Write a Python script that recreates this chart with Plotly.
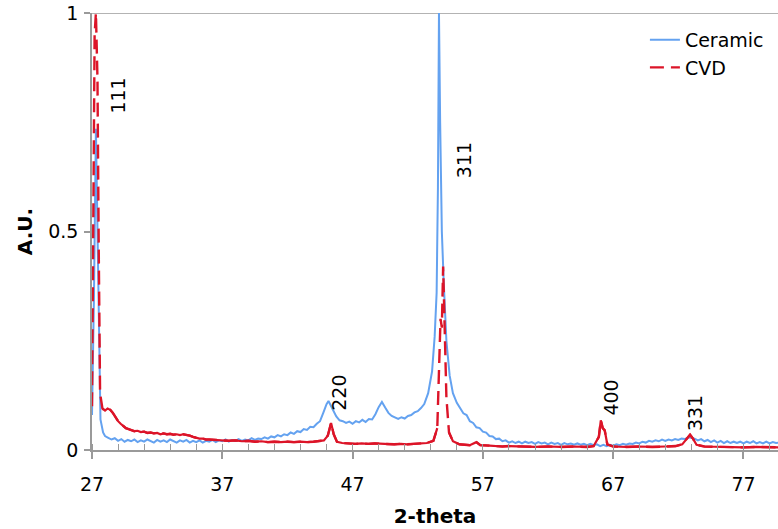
import plotly.graph_objects as go

# Ceramic (blue) pattern
ceramic_x = [27.0, 27.15, 27.3, 27.45, 27.55, 27.65, 27.85,
             28.0, 28.25, 28.5, 28.75, 29.0, 29.25, 29.5, 29.75, 30.0, 30.25, 30.5, 30.75,
             31.0, 31.25, 31.5, 31.75, 32.0, 32.25, 32.5, 32.75, 33.0, 33.25, 33.5, 33.75,
             34.0, 34.25, 34.5, 34.75, 35.0, 35.25, 35.5, 35.75, 36.0, 36.25, 36.5, 36.75,
             37.0, 37.25, 37.5, 37.75, 38.0, 38.25, 38.5, 38.75, 39.0, 39.25, 39.5, 39.75,
             40.0, 40.25, 40.5, 40.75, 41.0, 41.25, 41.5, 41.75, 42.0, 42.25, 42.5, 42.75,
             43.0, 43.25, 43.5, 43.75, 44.0, 44.25, 44.5, 44.75, 45.0, 45.15, 45.3, 45.5,
             45.75, 46.0, 46.25, 46.5, 46.75, 47.0, 47.25, 47.5, 47.75, 48.0, 48.25, 48.5,
             48.75, 49.0, 49.25, 49.5, 49.75, 50.0, 50.25, 50.5, 50.75, 51.0, 51.25, 51.5,
             51.75, 52.0, 52.25, 52.5, 52.8, 53.1, 53.3, 53.45, 53.55, 53.63, 53.72, 53.85,
             54.0, 54.2, 54.45, 54.7, 55.0, 55.25, 55.5, 55.75, 56.0, 56.25, 56.5, 56.75,
             57.0, 57.25, 57.5, 57.75, 58.0, 58.25, 58.5, 58.75, 59.0, 59.25, 59.5, 59.75,
             60.0, 60.25, 60.5, 60.75, 61.0, 61.25, 61.5, 61.75, 62.0, 62.25, 62.5, 62.75,
             63.0, 63.25, 63.5, 63.75, 64.0, 64.25, 64.5, 64.75, 65.0, 65.25, 65.5, 65.75,
             66.0, 66.25, 66.5, 66.75, 67.0, 67.25, 67.5, 67.75, 68.0, 68.25, 68.5, 68.75,
             69.0, 69.25, 69.5, 69.75, 70.0, 70.25, 70.5, 70.75, 71.0, 71.25, 71.5, 71.75,
             72.0, 72.25, 72.5, 72.75, 73.0, 73.25, 73.5, 73.75, 74.0, 74.25, 74.5, 74.75,
             75.0, 75.25, 75.5, 75.75, 76.0, 76.25, 76.5, 76.75, 77.0, 77.25, 77.5, 77.75,
             78.0, 78.25, 78.5, 78.75, 79.0, 79.25, 79.5, 79.75]
ceramic_y = [0.080, 0.350, 0.735, 0.450, 0.200, 0.070, 0.040,
             0.032, 0.028, 0.024, 0.027, 0.021, 0.025, 0.019, 0.023, 0.020, 0.024, 0.018, 0.022,
             0.019, 0.024, 0.020, 0.017, 0.023, 0.019, 0.022, 0.018, 0.024, 0.020, 0.017, 0.022,
             0.019, 0.023, 0.017, 0.021, 0.018, 0.022, 0.017, 0.021, 0.019, 0.023, 0.018, 0.022,
             0.020, 0.024, 0.019, 0.023, 0.021, 0.025, 0.021, 0.024, 0.022, 0.027, 0.023, 0.026,
             0.025, 0.029, 0.026, 0.031, 0.029, 0.034, 0.031, 0.036, 0.034, 0.040, 0.037, 0.043,
             0.041, 0.048, 0.046, 0.053, 0.052, 0.060, 0.066, 0.085, 0.105, 0.112, 0.104, 0.090,
             0.077, 0.068, 0.066, 0.062, 0.065, 0.060, 0.066, 0.063, 0.069, 0.064, 0.071, 0.070,
             0.082, 0.098, 0.110, 0.097, 0.085, 0.078, 0.074, 0.071, 0.075, 0.072, 0.078, 0.080,
             0.086, 0.089, 0.096, 0.105, 0.130, 0.180, 0.260, 0.360, 0.600, 1.000, 0.750, 0.500,
             0.380, 0.250, 0.170, 0.130, 0.108, 0.096, 0.084, 0.080, 0.066, 0.062, 0.052, 0.050,
             0.042, 0.040, 0.032, 0.031, 0.025, 0.026, 0.020, 0.022, 0.017, 0.020, 0.016, 0.019,
             0.015, 0.019, 0.016, 0.018, 0.014, 0.018, 0.015, 0.017, 0.013, 0.017, 0.014, 0.016,
             0.012, 0.016, 0.013, 0.015, 0.012, 0.015, 0.012, 0.014, 0.011, 0.014, 0.011, 0.013,
             0.009, 0.012, 0.009, 0.012, 0.010, 0.013, 0.011, 0.014, 0.012, 0.015, 0.014, 0.017,
             0.015, 0.019, 0.017, 0.021, 0.019, 0.022, 0.020, 0.024, 0.021, 0.024, 0.022, 0.025,
             0.023, 0.026, 0.025, 0.029, 0.028, 0.026, 0.022, 0.025, 0.020, 0.023, 0.018, 0.022,
             0.017, 0.021, 0.016, 0.020, 0.016, 0.019, 0.016, 0.019, 0.015, 0.019, 0.016, 0.020,
             0.015, 0.018, 0.015, 0.019, 0.015, 0.018, 0.016, 0.017]

# CVD (red) pattern
cvd_x = [27.0, 27.08, 27.2, 27.3, 27.42, 27.52, 27.62, 27.8, 28.0, 28.2, 28.4, 28.6, 28.8, 29.0,
         29.2, 29.4, 29.6, 29.8, 30.0, 30.25, 30.5, 30.75, 31.0, 31.25, 31.5, 31.75, 32.0, 32.25,
         32.5, 32.75, 33.0, 33.25, 33.5, 33.75, 34.0, 34.25, 34.5, 34.75, 35.0, 35.25, 35.5, 35.75,
         36.0, 36.5, 37.0, 37.5, 38.0, 38.5, 39.0, 39.5, 40.0, 40.5, 41.0, 41.5, 42.0, 42.5,
         43.0, 43.5, 44.0, 44.5, 44.8, 45.1, 45.35, 45.55, 45.8, 46.2, 46.7, 47.2, 47.7, 48.2,
         48.7, 49.2, 49.7, 50.2, 50.7, 51.2, 51.7, 52.2, 52.7, 53.2, 53.5, 53.65, 53.75, 53.85,
         53.95, 54.05, 54.2, 54.4, 54.7, 55.2, 56.0, 56.5, 56.8, 57.5, 58.0, 58.5, 59.0, 60.0,
         61.0, 62.0, 63.0, 64.0, 65.0, 65.5, 65.9, 66.05, 66.2, 66.35, 66.55, 67.0, 68.0, 69.0,
         70.0, 71.0, 71.8, 72.3, 72.7, 72.9, 73.1, 73.4, 74.0, 75.0, 76.0, 77.0, 78.0, 79.0, 80.0]
cvd_y = [0.100, 0.500, 0.950, 1.000, 0.850, 0.450, 0.130, 0.095, 0.090, 0.095, 0.092, 0.085, 0.075, 0.066,
         0.060, 0.054, 0.050, 0.048, 0.045, 0.043, 0.044, 0.041, 0.042, 0.039, 0.040, 0.038, 0.039, 0.036,
         0.038, 0.036, 0.037, 0.035, 0.036, 0.034, 0.036, 0.035, 0.033, 0.030, 0.028, 0.026, 0.026, 0.024,
         0.024, 0.023, 0.022, 0.021, 0.022, 0.020, 0.021, 0.019, 0.020, 0.018, 0.019, 0.018, 0.019, 0.018,
         0.019, 0.018, 0.019, 0.020, 0.022, 0.033, 0.062, 0.036, 0.019, 0.016, 0.015, 0.014, 0.015, 0.014,
         0.015, 0.014, 0.014, 0.013, 0.014, 0.013, 0.014, 0.015, 0.016, 0.021, 0.050, 0.200, 0.300, 0.280,
         0.420, 0.300, 0.120, 0.040, 0.020, 0.013, 0.011, 0.018, 0.011, 0.010, 0.009, 0.008, 0.009, 0.008,
         0.007, 0.008, 0.007, 0.008, 0.007, 0.009, 0.030, 0.068, 0.050, 0.045, 0.013, 0.008, 0.007, 0.008,
         0.007, 0.008, 0.009, 0.013, 0.027, 0.035, 0.027, 0.012, 0.008, 0.007, 0.007, 0.006, 0.007, 0.006, 0.006]

peak_labels = ["111", "220", "311", "400", "331"]
peak_label_x = [28.96, 46.0, 55.5, 66.8, 73.3]
peak_label_y = [0.81, 0.13, 0.664, 0.119, 0.085]

x_ticks = [27, 37, 47, 57, 67, 77]
y_ticks = [0, 0.5, 1]

FONT = "DejaVu Sans"
BLUE = "#64a2f0"
RED = "#dc1428"
AXIS = "#9a9a9a"

# low (dense) parts of the CVD trace render solid, steep peak flanks dashed
cvd_y_low = [v if v <= 0.1 else None for v in cvd_y]

fig = go.Figure()
fig.add_trace(go.Scatter(x=ceramic_x, y=ceramic_y, mode="lines", name="Ceramic",
                         line=dict(color=BLUE, width=2)))
fig.add_trace(go.Scatter(x=cvd_x, y=cvd_y, mode="lines", name="CVD",
                         line=dict(color=RED, width=2.4, dash="14px,7px")))
fig.add_trace(go.Scatter(x=cvd_x, y=cvd_y_low, mode="lines", name="CVD", showlegend=False,
                         connectgaps=False, line=dict(color=RED, width=2.2)))

for t, xv, yv in zip(peak_labels, peak_label_x, peak_label_y):
    fig.add_annotation(x=xv, y=yv, text=t, textangle=-90, showarrow=False,
                       font=dict(family=FONT, size=19, color="black"))

fig.add_shape(type="line", xref="paper", yref="y", x0=0, x1=1, y0=1, y1=1,
              line=dict(color=AXIS, width=1.5), layer="below")

fig.update_layout(
    width=778, height=529,
    margin=dict(l=92, r=0, t=13, b=79, autoexpand=False),
    paper_bgcolor="white", plot_bgcolor="white",
    font=dict(family=FONT, size=19, color="black"),
    showlegend=True,
    legend=dict(x=0.806, y=0.982, xanchor="left", yanchor="top",
                bgcolor="rgba(0,0,0,0)", font=dict(family=FONT, size=19),
                tracegroupgap=0, itemwidth=30),
    xaxis=dict(range=[27, 79.65], tickvals=x_ticks, showgrid=False, zeroline=False,
               automargin=False,
               showline=True, linecolor=AXIS, linewidth=1.5,
               ticks="outside", ticklen=7, tickcolor=AXIS, tickwidth=1.5,
               ticklabelstandoff=9,
               minor=dict(dtick=2, tick0=27, ticks="inside", ticklen=6, tickcolor=AXIS, tickwidth=1),
               title=dict(text="<b>2-theta</b>", font=dict(family=FONT, size=20), standoff=15),
               tickfont=dict(family=FONT, size=19)),
    yaxis=dict(range=[0, 1], tickvals=y_ticks, ticktext=["0", "0.5", "1"], showgrid=False,
               automargin=False,
               zeroline=False, showline=True, linecolor=AXIS, linewidth=1.5,
               ticks="outside", ticklen=6, tickcolor=AXIS, tickwidth=1.5,
               ticklabelstandoff=2,
               title=dict(text="<b>A.U.</b>", font=dict(family=FONT, size=20), standoff=10),
               tickfont=dict(family=FONT, size=19)),
)

fig.write_html("out.html", config={"displayModeBar": False},
               post_script="document.body.style.margin='0';")
